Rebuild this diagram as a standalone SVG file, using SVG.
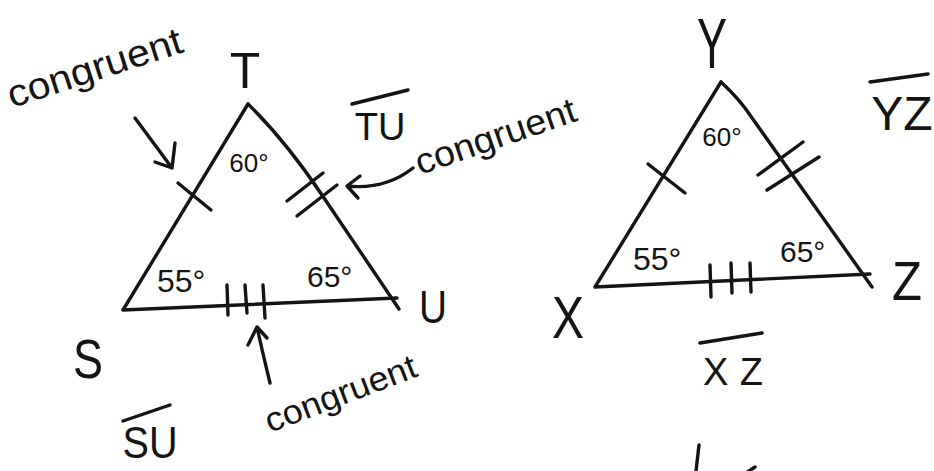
<svg xmlns="http://www.w3.org/2000/svg" width="934" height="471" viewBox="0 0 934 471">
<style>
.ln{fill:none;stroke:#141414;stroke-width:3.4;stroke-linecap:round;stroke-linejoin:round}
.tx{font-family:"Liberation Sans","DejaVu Sans",sans-serif;fill:#141414}
.m{text-anchor:middle}
</style>
<rect width="934" height="471" fill="#ffffff"/>
<g id="triangle-STU">
  <path class="ln" d="M248,104 L123,310 L397,298"/>
  <path class="ln" d="M248,104 Q285,140 322,195 L399,309"/>
  <path class="ln" d="M178,183 L211,210"/>
  <path class="ln" d="M287,201 L323,173 M297,216 L337,185"/>
  <path class="ln" d="M227,285 L228,315 M245,285 L247,313 M263,285 L265,318"/>
  <text class="tx m" x="245" y="88" font-size="50">T</text>
  <text class="tx m" x="88" y="378" font-size="56" textLength="30" lengthAdjust="spacingAndGlyphs">S</text>
  <text class="tx m" x="433" y="323" font-size="46" textLength="28" lengthAdjust="spacingAndGlyphs">U</text>
  <text class="tx m" x="249" y="172" font-size="26">60°</text>
  <text class="tx" x="157" y="292" font-size="32">55°</text>
  <text class="tx" x="307" y="287" font-size="30">65°</text>
</g>
<g id="triangle-XYZ">
  <path class="ln" d="M721,82 L595,287 L870,274"/>
  <path class="ln" d="M721,82 Q735,95 745,108 L872,287"/>
  <path class="ln" d="M648,164 L685,193"/>
  <path class="ln" d="M758,175 L803,142 M767,190 L819,157"/>
  <path class="ln" d="M710,265 L711,297 M731,263 L732,293 M750,263 L751,292"/>
  <text class="tx m" x="712" y="68" font-size="70" textLength="30" lengthAdjust="spacingAndGlyphs">Y</text>
  <text class="tx m" x="568" y="338" font-size="60" textLength="32" lengthAdjust="spacingAndGlyphs">X</text>
  <text class="tx m" x="907" y="300" font-size="56" textLength="30" lengthAdjust="spacingAndGlyphs">Z</text>
  <text class="tx m" x="722" y="146" font-size="26">60°</text>
  <text class="tx" x="633" y="270" font-size="32">55°</text>
  <text class="tx" x="780" y="262" font-size="30">65°</text>
</g>
<g id="segment-labels">
  <g id="seg-TU">
    <path class="ln" d="M352,104 L408,90"/>
    <text class="tx m" x="380" y="140" font-size="38">TU</text>
  </g>
  <g id="seg-SU">
    <path class="ln" d="M123,421 L170,405"/>
    <text class="tx m" x="150" y="458" font-size="44" textLength="55" lengthAdjust="spacingAndGlyphs">SU</text>
  </g>
  <g id="seg-YZ">
    <path class="ln" d="M870,82 L928,74"/>
    <text class="tx m" x="902" y="130" font-size="48">YZ</text>
  </g>
  <g id="seg-XZ">
    <path class="ln" d="M700,343 L762,333"/>
    <text class="tx m" x="733" y="385" font-size="38" textLength="60" lengthAdjust="spacing">XZ</text>
  </g>
</g>
<g id="notes">
  <text class="tx" x="12" y="108" font-size="38" transform="rotate(-18 12 108)" textLength="182" lengthAdjust="spacingAndGlyphs">congruent</text>
  <text class="tx" x="420" y="175" font-size="36" transform="rotate(-19 420 175)" textLength="168" lengthAdjust="spacingAndGlyphs">congruent</text>
  <text class="tx" x="270" y="433" font-size="34" transform="rotate(-21 270 433)" textLength="160" lengthAdjust="spacingAndGlyphs">congruent</text>
</g>
<g id="connectors">
  <path class="ln" d="M135,118 L172,168 M155,162 L172,168 L175,143"/>
  <path class="ln" d="M413,168 Q385,190 347,186 M360,176 L347,186 L358,198"/>
  <path class="ln" d="M270,383 Q262,350 257,327 M248,345 L257,327 L267,338"/>
</g>
<g id="partial-strokes">
  <path class="ln" d="M699,445 L696,471 M755,467 L746,473"/>
</g>
</svg>
